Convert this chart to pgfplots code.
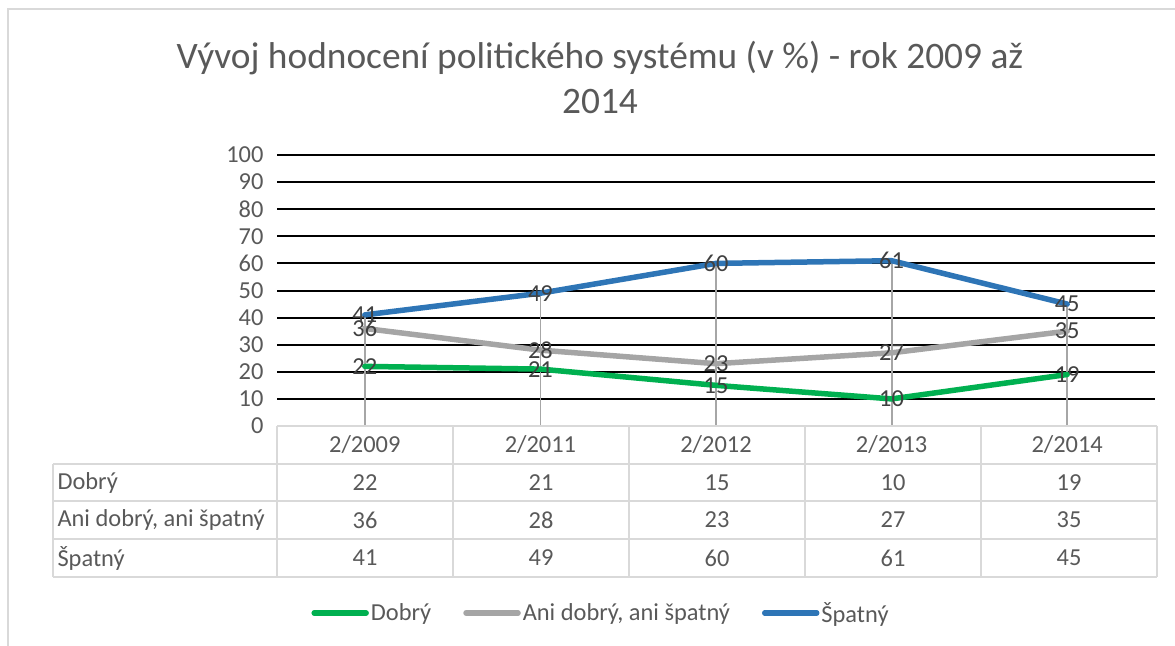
\documentclass[border=0pt]{standalone}
\usepackage{fontspec}
\setmainfont{Carlito}
\usepackage{pgfplots}
\pgfplotsset{compat=1.18}
\usepackage{pgfplotstable}
\definecolor{cgreen}{HTML}{00B050}
\definecolor{cgray}{HTML}{A5A5A5}
\definecolor{cblue}{HTML}{2E75B6}
\definecolor{txt}{HTML}{595959}
\definecolor{lbl}{HTML}{404040}
\definecolor{tblline}{HTML}{D9D9D9}
\definecolor{drop}{HTML}{A6A6A6}
\pgfplotstableread{
x good mid bad
0 22 36 41
1 21 28 49
2 15 23 60
3 10 27 61
4 19 35 45
}\data
\begin{document}
\begin{tikzpicture}[x=1bp,y=1bp]
\path[use as bounding box] (0,0) rectangle (1175,-646);
\draw[tblline, line width=2bp] (8,-646) -- (8,-9) -- (1175,-9);
\node[font=\fontsize{37.5}{45}\selectfont, text=txt, align=center] at (600,-77.5) {Vývoj hodnocení politického systému (v \%) - rok 2009 až\\2014};
\begin{axis}[
  at={(277bp,-426bp)}, anchor=south west,
  scale only axis, width=878bp, height=271bp,
  xmin=-0.5, xmax=4.5, ymin=0, ymax=100,
  ytick={0,10,...,100}, xtick={0,...,4},
  xticklabels={2/2009,2/2011,2/2012,2/2013,2/2014},
  axis line style={draw=none}, major tick length=0pt,
  ymajorgrids, grid style={black, line width=2bp},
  tick label style={font=\fontsize{24.5}{28}\selectfont, text=txt},
  /pgf/number format/assume math mode=true,
  xticklabel style={anchor=center, yshift=-19bp},
  yticklabel style={anchor=east, xshift=-10bp},
  clip=false,
  legend style={at={(0.369,-0.69)}, anchor=center, draw=none, fill=none,
    font=\fontsize{24.5}{28}\selectfont, text=txt, legend columns=3,
    /tikz/every even column/.append style={column sep=30bp}},
  legend image code/.code={\draw[#1, line width=5.5bp, line cap=round] (0bp,0bp) -- (52bp,0bp);},
  nodes near coords style={anchor=center, font=\fontsize{24.5}{28}\selectfont, text=lbl},
]
\addplot[ycomb, draw=drop, line width=1.8bp, mark=none, forget plot] table[x=x, y=bad] {\data};
\addplot[cgreen, line width=5.5bp, line join=round, line cap=round, mark=none] table[x=x, y=good] {\data};
\addlegendentry{Dobrý}
\addplot[cgray, line width=5.5bp, line join=round, line cap=round, mark=none] table[x=x, y=mid] {\data};
\addlegendentry{Ani dobrý, ani špatný}
\addplot[cblue, line width=5.5bp, line join=round, line cap=round, mark=none] table[x=x, y=bad] {\data};
\addlegendentry{Špatný}
\addplot[draw=none, mark=none, nodes near coords, forget plot] table[x=x, y=good] {\data};
\addplot[draw=none, mark=none, nodes near coords, forget plot] table[x=x, y=mid] {\data};
\addplot[draw=none, mark=none, nodes near coords, forget plot] table[x=x, y=bad] {\data};
\end{axis}
% data table
\draw[tblline, line width=2bp] (277,-426) -- (1157,-426);
\foreach \yy in {464,501,539,577} {\draw[tblline, line width=2bp] (53,-\yy) -- (1157,-\yy);}
\draw[tblline, line width=2bp] (53,-464) -- (53,-577);
\foreach \xx in {277,453,629,805,981,1157} {\draw[tblline, line width=2bp] (\xx,-426) -- (\xx,-577);}
\begin{scope}[every node/.style={font=\fontsize{24.5}{28}\selectfont, text=txt}]
\node[anchor=west] at (54,-482.5) {Dobrý};
\node[anchor=west] at (54,-520) {Ani dobrý, ani špatný};
\node[anchor=west] at (54,-558) {Špatný};
\foreach \xx/\a/\b/\c in {365/22/36/41, 541/21/28/49, 717/15/23/60, 893/10/27/61, 1069/19/35/45} {
  \node at (\xx,-482.5) {\a};
  \node at (\xx,-520) {\b};
  \node at (\xx,-558) {\c};
}
\end{scope}
\end{tikzpicture}
\end{document}
